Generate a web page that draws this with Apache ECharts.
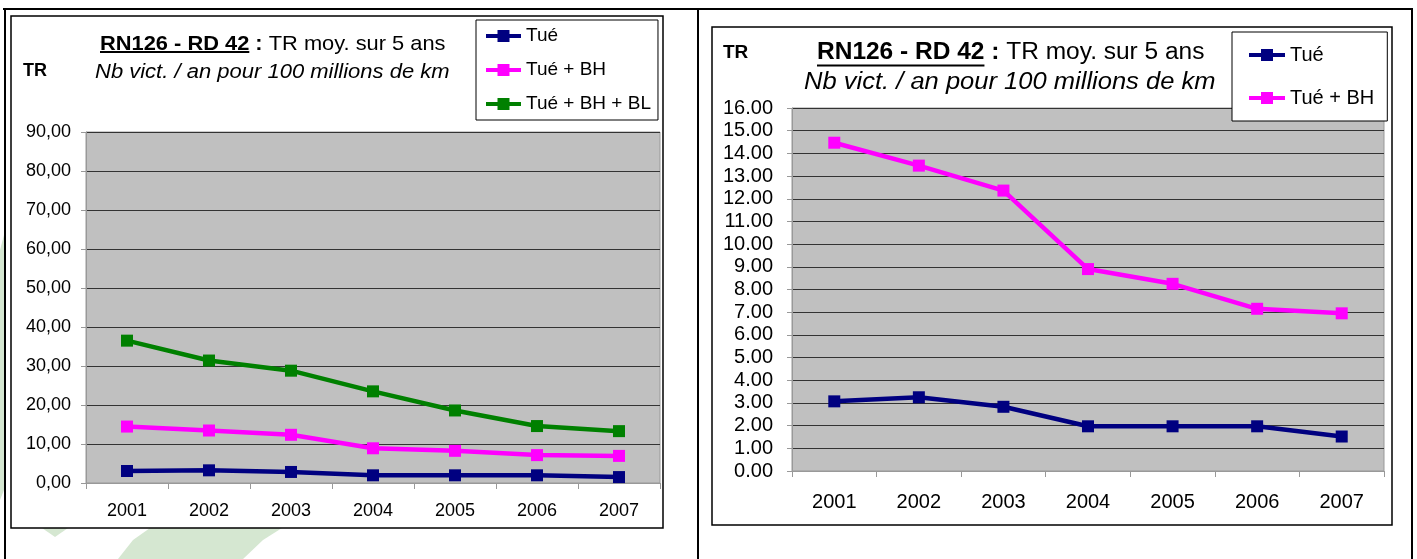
<!DOCTYPE html>
<html>
<head>
<meta charset="utf-8">
<script src="https://cdn.jsdelivr.net/npm/echarts@6.0.0/dist/echarts.min.js"></script>
<style>
  html, body { margin: 0; padding: 0; background: #fff; }
  #chart { width: 1417px; height: 559px; }
</style>
</head>
<body>
<div id="chart"></div>
<script>
// données
var years = ['2001', '2002', '2003', '2004', '2005', '2006', '2007'];
var tue = [3.07, 3.25, 2.83, 1.97, 1.97, 1.97, 1.52];
var tueBH = [14.47, 13.46, 12.36, 8.9, 8.25, 7.15, 6.95];
var tueBHBL = [36.5, 31.4, 28.8, 23.5, 18.6, 14.6, 13.3];

var namesLeft = ['Tué', 'Tué + BH', 'Tué + BH + BL'];
var namesRight = ['Tué', 'Tué + BH'];
var colors = ['#000080', '#FF00FF', '#008000'];

var FONT = "'Liberation Sans', Arial, sans-serif";

// largeur d'un texte, pour placer le soulignement
var ctx = document.createElement('canvas').getContext('2d');
function tw (text, font) {
  ctx.font = font;
  return ctx.measureText(text).width;
}

function titleBlock (x, y, size, sx, subX, subY, subSize, subSx, ulY) {
  var bFont = 'bold ' + size + 'px ' + FONT;
  var nFont = size + 'px ' + FONT;
  var wB = tw('RN126 - RD 42 :', bFont) * sx;
  var wU = tw('RN126 - RD 42', bFont) * sx;
  return [
    { type: 'text', x: x, y: y, scaleX: sx, z: 50,
      style: { text: 'RN126 - RD 42 :', font: bFont, fill: '#000', verticalAlign: 'middle' } },
    { type: 'text', x: x + wB, y: y, scaleX: sx, z: 50,
      style: { text: ' TR moy. sur 5 ans', font: nFont, fill: '#000', verticalAlign: 'middle' } },
    { type: 'line', z: 50, shape: { x1: x, y1: ulY, x2: x + wU, y2: ulY },
      style: { stroke: '#000', lineWidth: 2 } },
    { type: 'text', x: subX, y: subY, scaleX: subSx, z: 50,
      style: { text: 'Nb vict. / an pour 100 millions de km', font: 'italic ' + subSize + 'px ' + FONT,
        fill: '#000', verticalAlign: 'middle' } }
  ];
}

function yAxisOpt (gi, max, interval, size, margin, sep) {
  return {
    gridIndex: gi,
    type: 'value',
    min: 0,
    max: max,
    interval: interval,
    axisLine: { show: true, lineStyle: { color: '#999', width: 1 } },
    axisTick: { show: true, length: 5, lineStyle: { color: '#999' } },
    axisLabel: {
      color: '#000', fontSize: size, fontFamily: FONT, margin: margin,
      formatter: function (v) { return v.toFixed(2).replace('.', sep); }
    },
    splitLine: { show: true, lineStyle: { color: '#333', width: 1 } }
  };
}

function xAxisOpt (gi, size, margin) {
  return {
    gridIndex: gi,
    type: 'category',
    data: years,
    boundaryGap: true,
    axisLine: { show: true, lineStyle: { color: '#999', width: 1 } },
    axisTick: { show: true, length: 6, alignWithLabel: false, lineStyle: { color: '#999' } },
    axisLabel: { color: '#000', fontSize: size, fontFamily: FONT, margin: margin, interval: 0 },
    splitLine: { show: false }
  };
}

function lineSeries (name, data, color, idx, size) {
  return {
    name: name,
    type: 'line',
    xAxisIndex: idx,
    yAxisIndex: idx,
    data: data,
    symbol: 'rect',
    symbolSize: size,
    showAllSymbol: true,
    lineStyle: { color: color, width: 4.5 },
    itemStyle: { color: color },
    emphasis: { disabled: true }
  };
}

function legendOpt (names, left, top, padding, gap, iw, fs) {
  return {
    data: names,
    left: left, top: top,
    orient: 'vertical',
    padding: padding,
    itemGap: gap,
    itemWidth: iw,
    itemHeight: 15,
    selectedMode: false,
    backgroundColor: '#fff',
    borderColor: '#000',
    borderWidth: 1,
    borderRadius: 0,
    lineStyle: { width: 4 },
    textStyle: { color: '#000', fontSize: fs, lineHeight: 20, fontFamily: FONT }
  };
}

var chart = echarts.init(document.getElementById('chart'));

var graphics = [
  // filigrane vert pâle
  { type: 'polygon', z: -20, shape: { points: [[0, 250], [4, 235], [4, 490], [0, 500]] },
    style: { fill: '#d5e7d1' } },
  { type: 'polygon', z: -20, shape: { points: [[150, 528], [282, 528], [263, 540], [243, 559], [118, 559], [133, 540]] },
    style: { fill: '#d5e7d1' } },
  { type: 'polygon', z: -20, shape: { points: [[42, 528], [68, 528], [55, 537]] },
    style: { fill: '#d5e7d1' } },
  // cadre du tableau
  { type: 'line', z: -10, shape: { x1: 3, y1: 9, x2: 1413, y2: 9 }, style: { stroke: '#000', lineWidth: 2 } },
  { type: 'line', z: -10, shape: { x1: 5, y1: 8, x2: 5, y2: 559 }, style: { stroke: '#000', lineWidth: 2 } },
  { type: 'line', z: -10, shape: { x1: 698, y1: 8, x2: 698, y2: 559 }, style: { stroke: '#000', lineWidth: 2 } },
  { type: 'line', z: -10, shape: { x1: 1412, y1: 8, x2: 1412, y2: 559 }, style: { stroke: '#000', lineWidth: 2 } },
  // zones de graphique
  { type: 'rect', z: -5, shape: { x: 11, y: 16, width: 652, height: 512 },
    style: { fill: '#fff', stroke: '#000', lineWidth: 1.5 } },
  { type: 'rect', z: -5, shape: { x: 712, y: 27, width: 680, height: 498 },
    style: { fill: '#fff', stroke: '#000', lineWidth: 1.5 } },
  // libellés TR
  { type: 'text', x: 23, y: 71, z: 50,
    style: { text: 'TR', font: 'bold 18px ' + FONT, fill: '#000', verticalAlign: 'middle' } },
  { type: 'text', x: 723, y: 53, z: 50,
    style: { text: 'TR', font: 'bold 19px ' + FONT, fill: '#000', verticalAlign: 'middle' } }
].concat(
  titleBlock(100, 44, 21, 1.04, 95, 72, 20, 1.1, 52),
  titleBlock(817, 53, 23, 1.065, 804, 83, 23, 1.11, 65.5)
);

var option = {
  backgroundColor: '#fff',
  animation: false,
  textStyle: { fontFamily: FONT },
  graphic: { elements: graphics },
  grid: [
    { left: 86, top: 132, width: 574, height: 351, show: true, backgroundColor: '#C0C0C0',
      borderColor: '#999', borderWidth: 1, outerBoundsMode: 'none', containLabel: false },
    { left: 792, top: 108, width: 592, height: 363, show: true, backgroundColor: '#C0C0C0',
      borderColor: '#999', borderWidth: 1, outerBoundsMode: 'none', containLabel: false }
  ],
  xAxis: [xAxisOpt(0, 18, 19), xAxisOpt(1, 20, 21)],
  yAxis: [yAxisOpt(0, 90, 10, 18, 15, ','), yAxisOpt(1, 16, 1, 20, 19, '.')],
  legend: [
    legendOpt(namesLeft, 476, 20, [6, 7, 6, 8], 14, 35, 19),
    legendOpt(namesRight, 1232, 32, [13, 13, 13, 15], 23, 36, 20)
  ],
  series: [
    lineSeries(namesLeft[0], tue, colors[0], 0, 12),
    lineSeries(namesLeft[1], tueBH, colors[1], 0, 12),
    lineSeries(namesLeft[2], tueBHBL, colors[2], 0, 12),
    lineSeries(namesRight[0], tue, colors[0], 1, 12),
    lineSeries(namesRight[1], tueBH, colors[1], 1, 12)
  ]
};

chart.setOption(option);
</script>
</body>
</html>
